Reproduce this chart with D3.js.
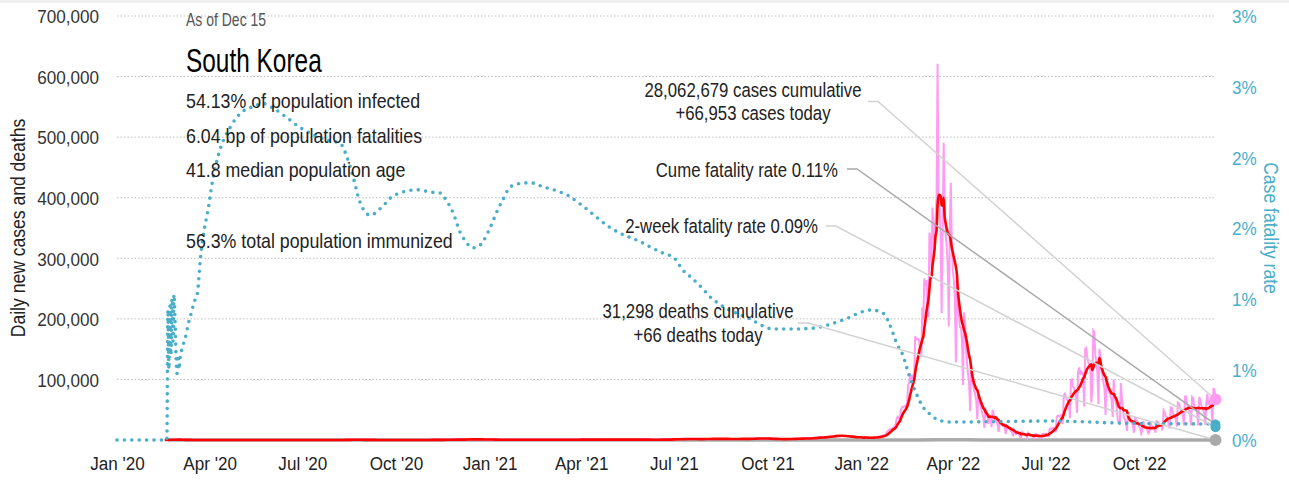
<!DOCTYPE html>
<html>
<head>
<meta charset="utf-8">
<script src="https://cdn.jsdelivr.net/npm/d3@7"></script>
<style>
  html, body { margin: 0; padding: 0; background: #fff; }
  svg { display: block; font-family: "Liberation Sans", Arial, sans-serif; }
</style>
</head>
<body>
<svg id="chart" width="1289" height="480"></svg>
<script>
// ---------------- data ----------------
const leftTicks = [100000, 200000, 300000, 400000, 500000, 600000, 700000];
const rightTicks = [0, 0.005, 0.01, 0.015, 0.02, 0.025, 0.03];
const rightTickLabels = ["0%", "1%", "1%", "2%", "2%", "3%", "3%"];
const xTickDates = ["2020-01-01", "2020-04-01", "2020-07-01", "2020-10-01", "2021-01-01", "2021-04-01",
                    "2021-07-01", "2021-10-01", "2022-01-01", "2022-04-01", "2022-07-01", "2022-10-01"];
const xTickLabels = ["Jan '20", "Apr '20", "Jul '20", "Oct '20", "Jan '21", "Apr '21",
                     "Jul '21", "Oct '21", "Jan '22", "Apr '22", "Jul '22", "Oct '22"];

// Weekly average of new cases per day, weeks starting Monday 2020-02-17 through 2021-12-27
const weeklyStart = "2020-02-17";
const weeklyCases = [
  60, 480, 560, 180, 100, 100, 85, 45, 20, 10, 8, 6, 25, 20, 40, 45, 45, 42, 45, 55,
  45, 40, 45, 30, 35, 90, 250, 330, 230, 150, 120, 90, 70, 70, 80, 80, 110, 120, 150, 250,
  450, 560, 700, 1000, 1050, 950,
  750, 520, 420, 450, 400, 370, 500, 400, 400, 430, 450, 430, 500, 620, 650, 680, 650,
  600, 600, 600, 560, 580, 570, 500, 550, 700, 1200, 1500, 1600, 1500, 1550, 1800, 1850,
  1800, 1700, 1800, 1800, 2200, 2600, 2200, 1800, 1500, 1700, 2100, 2400, 2900, 3900, 4800,
  6200, 7000, 6300, 4800
];

// Daily new cases, 2022-01-01 through 2022-12-15
const dailyStart = "2022-01-01";
const dailyCases = [
  // Jan
  4415, 3833, 3129, 4443, 4126, 4444, 3713, 3511, 3376, 3005, 4388, 4167, 4542, 4423, 4197, 4194,
  3857, 5804, 5805, 6603, 6769, 7009, 7630, 7513, 8571, 13012, 14518, 16096, 17542, 17528, 18341,
  // Feb
  20270, 20908, 22907, 27443, 36362, 38691, 35286, 36719, 49567, 54122, 53926, 54941, 56431, 54619,
  57177, 90443, 93135, 109831, 102211, 104829, 95362, 99573, 171452, 165890, 166209, 166722, 163566, 139626,
  // Mar
  138993, 219241, 198803, 266853, 254327, 264171, 210716, 202721, 342446, 327549, 282987, 383665,
  350190, 309790, 362338, 400741, 621328, 407017, 381454, 334708, 209169, 353980, 490881, 395598,
  339514, 318130, 287536, 187213, 347554, 424641, 320743,
  // Apr
  280273, 264171, 234301, 127892, 266135, 224820, 205333, 186153, 185566, 164481, 90928, 210755,
  195419, 148443, 125846, 107916, 93001, 47743, 118504, 111319, 90867, 81058, 75449, 64725, 34370,
  76787, 68551, 57464, 50568, 43286,
  // May
  37771, 20084, 51131, 49064, 42296, 26714, 40064, 38982, 20601, 49933, 43925, 35906, 32451, 29581,
  25434, 13296, 29579, 29935, 26589, 23956, 25125, 19298, 9975, 23945, 22248, 18816, 17189, 15599,
  13358, 6141, 16584,
  // Jun
  13358, 9888, 12542, 12048, 9832, 5022, 4434, 13358, 12161, 10168, 8438, 7378, 3828, 11441, 9437,
  7995, 7198, 6068, 5022, 3530, 9305, 9591, 7497, 6787, 6228, 3423, 3423, 9595, 10463, 9528,
  // Jul
  10715, 10059, 6253, 6253, 18147, 19371, 18511, 19323, 20410, 20383, 12693, 37360, 40266, 39196,
  38882, 41310, 40342, 26299, 73582, 76402, 71170, 68632, 65433, 65433, 35883, 99327, 100285, 88384,
  85320, 82002, 73589,
  // Aug
  44689, 111789, 119922, 107894, 112901, 110666, 105507, 55292, 149897, 151792, 137241, 128714,
  124592, 119603, 62078, 84128, 180803, 178574, 138812, 128702, 110162, 59046, 150267, 139339,
  113371, 105507, 94586, 85295, 41441, 103961, 95604,
  // Sep
  81573, 77497, 72727, 65433, 37597, 99837, 72847, 62078, 52000, 33000, 29000, 25000, 93981, 71444,
  53993, 36000, 34000, 27000, 15000, 45000, 42000, 32000, 30000, 28000, 21000, 12000, 36000, 34000,
  31000, 28000,
  // Oct
  22000, 19000, 11000, 16000, 31000, 25000, 21000, 20000, 17000, 11000, 13000, 30000, 24000, 22000,
  21000, 18000, 12000, 31000, 30000, 28000, 26000, 25000, 21000, 16000, 49000, 46000, 40000, 37000,
  35000, 25000, 19000,
  // Nov
  54000, 53000, 45000, 41000, 39000, 34000, 22000, 62000, 61000, 54000, 50000, 46000, 40000, 24000,
  72000, 72000, 59000, 55000, 50000, 42000, 24000, 71000, 69000, 57000, 53000, 51000, 44000, 24000,
  71000, 67000,
  // Dec
  57000, 53000, 50000, 43000, 25000, 62000, 76000, 58000, 62000, 57000, 53000, 27000, 86000, 82000, 66953
];

// Average deaths per day, by month
const deathDates = ["2020-02-20", "2020-03-15", "2020-04-15", "2020-05-15", "2020-06-15", "2020-07-15",
  "2020-08-15", "2020-09-15", "2020-10-15", "2020-11-15", "2020-12-15", "2021-01-15", "2021-02-15",
  "2021-03-15", "2021-04-15", "2021-05-15", "2021-06-15", "2021-07-15", "2021-08-15", "2021-09-15",
  "2021-10-15", "2021-11-15", "2021-12-15", "2022-01-15", "2022-02-15", "2022-03-15", "2022-04-15",
  "2022-05-15", "2022-06-15", "2022-07-15", "2022-08-15", "2022-09-15", "2022-10-15", "2022-11-15",
  "2022-12-15"];
const deathsPerDay = [0.5, 5, 3, 0.5, 0.3, 0.5, 0.5, 3, 2, 1.5, 12, 16, 5, 3, 3, 4, 2, 2, 8, 7,
  11, 40, 65, 32, 40, 285, 210, 40, 12, 15, 60, 50, 22, 40, 66];

// Cumulative case fatality rate, percent
const cfrDates = ["2020-01-01", "2020-02-19", "2020-02-20", "2020-02-21", "2020-02-22", "2020-02-23",
  "2020-02-24", "2020-02-25", "2020-02-26", "2020-02-27", "2020-02-28", "2020-02-29", "2020-03-01",
  "2020-03-02", "2020-03-03", "2020-03-05", "2020-03-08", "2020-03-11", "2020-03-14", "2020-03-17",
  "2020-03-20", "2020-03-23", "2020-03-27", "2020-03-30", "2020-04-04", "2020-04-11", "2020-04-21",
  "2020-05-01", "2020-05-14", "2020-05-24", "2020-06-02", "2020-06-16", "2020-06-29", "2020-07-12",
  "2020-07-26", "2020-08-07", "2020-08-14", "2020-08-20", "2020-08-25", "2020-09-01", "2020-09-06",
  "2020-09-16", "2020-09-29", "2020-10-22", "2020-11-04", "2020-11-14", "2020-11-19", "2020-11-26",
  "2020-12-03", "2020-12-08", "2020-12-15", "2020-12-20", "2020-12-26", "2021-01-02", "2021-01-09",
  "2021-01-14", "2021-01-19", "2021-01-27", "2021-02-10", "2021-02-23", "2021-03-09", "2021-03-19",
  "2021-03-29", "2021-04-07", "2021-04-17", "2021-04-30", "2021-05-13", "2021-05-27", "2021-06-08",
  "2021-06-21", "2021-07-01", "2021-07-10", "2021-07-18", "2021-07-28", "2021-08-06", "2021-08-16",
  "2021-09-12", "2021-10-07", "2021-10-24", "2021-11-16", "2021-12-02", "2021-12-19", "2022-01-03",
  "2022-01-11", "2022-01-24", "2022-01-27", "2022-01-31", "2022-02-04", "2022-02-08", "2022-02-11",
  "2022-02-14", "2022-02-17", "2022-02-20", "2022-02-24", "2022-03-03", "2022-03-11", "2022-03-18",
  "2022-03-31", "2022-07-07", "2022-09-11", "2022-12-15"];
const cfrPct = [0, 0, 0.92, 0.50, 0.95, 0.60, 1.00, 0.70, 1.03, 0.85, 0.60, 0.47, 0.60,
  0.50, 0.58, 0.65, 0.72, 0.82, 0.90, 0.98, 1.04, 1.29, 1.50, 1.61, 1.84, 2.05, 2.21,
  2.31, 2.36, 2.38, 2.35, 2.28, 2.21, 2.16, 2.12, 2.10, 2.00, 1.86, 1.72, 1.61, 1.59,
  1.64, 1.73, 1.77, 1.754, 1.747, 1.70, 1.61, 1.47, 1.41, 1.36, 1.365, 1.41, 1.51, 1.63,
  1.70, 1.77, 1.81, 1.82, 1.79, 1.76, 1.73, 1.68, 1.63, 1.57, 1.50, 1.45, 1.41, 1.365,
  1.32, 1.29, 1.20, 1.15, 1.08, 1.01, 0.955, 0.863, 0.785, 0.785, 0.792, 0.82, 0.863, 0.91,
  0.92, 0.89, 0.85, 0.78, 0.70, 0.64, 0.60, 0.53, 0.46, 0.40, 0.33, 0.23, 0.175, 0.14,
  0.127, 0.134, 0.12, 0.113];

const latestCases = 66953;
const latestDeaths = 66;
const cumulativeCases = 28062679;
const cumulativeDeaths = 31298;
const cumeFatalityRate = 0.0011;
const twoWeekFatalityRate = 0.0009;

const infoLines = [
  "54.13% of population infected",
  "6.04 bp of population fatalities",
  "41.8 median population age"
];
const immunizedLine = "56.3% total population immunized";

// ---------------- build series ----------------
const parse = d3.utcParse("%Y-%m-%d");
const wk0 = parse(weeklyStart);
const day0 = parse(dailyStart);

const weeklySeries = weeklyCases.map((v, i) => ({ date: d3.utcDay.offset(wk0, i * 7), value: v }));
const dailySeries = dailyCases.map((v, i) => ({ date: d3.utcDay.offset(day0, i), value: v }));
// trailing 7-day average of the daily counts
const avgSeries = dailySeries.map((d, i) => ({
  date: d.date,
  value: d3.mean(dailyCases.slice(Math.max(0, i - 6), i + 1))
}));
const pinkSeries = weeklySeries.concat(dailySeries);
const redSeries = weeklySeries.concat(avgSeries);
const deathSeries = deathDates.map((d, i) => ({ date: parse(d), value: deathsPerDay[i] }));
const cfrSeries = cfrDates.map((d, i) => ({ date: parse(d), value: cfrPct[i] / 100 }));
const lastDate = dailySeries[dailySeries.length - 1].date;

// ---------------- scales ----------------
const svg = d3.select("#chart");
const x = d3.scaleUtc().domain([parse("2020-01-01"), lastDate]).range([117, 1215.5]);
const y = d3.scaleLinear().domain([0, 700000]).range([440, 16]);
const yR = d3.scaleLinear().domain([0, 0.03]).range([440, 16]);

const TEAL = "#4aaec9";
const PINK = "#ff9cf2";
const TXT = "#222";

// narrow lettering: horizontally compressed glyphs anchored at (x, y)
function label(parent, x0, y0, sx, size, str, anchor = "start", rot = 0) {
  return parent.append("text")
    .attr("transform", `translate(${x0},${y0})${rot ? ` rotate(${rot})` : ""} scale(${sx},1)`)
    .attr("font-size", size).attr("text-anchor", anchor).text(str);
}

// thin band along the top edge
svg.append("rect").attr("x", 0).attr("y", 0).attr("width", 1289).attr("height", 3).attr("fill", "#efefef");

// ---------------- grid ----------------
svg.append("g").selectAll("line").data(leftTicks).join("line")
  .attr("x1", 117).attr("x2", 1216)
  .attr("y1", d => y(d)).attr("y2", d => y(d))
  .attr("stroke", "#bdbdbd").attr("stroke-width", 1).attr("stroke-dasharray", "1.5,2");

// ---------------- axes ----------------
const TICK_SIZE = 19, TICK_SX = 0.9;
const axisFont = g => g.attr("font-family", null).attr("font-size", TICK_SIZE);

const gLeft = svg.append("g").attr("transform", "translate(99,0)")
  .call(d3.axisLeft(y).tickValues(leftTicks).tickFormat(d3.format(",")).tickSize(0).tickPadding(0))
  .call(axisFont);
gLeft.select(".domain").remove();
gLeft.selectAll("text").attr("fill", "#333").attr("dy", "0.36em").attr("transform", `scale(${TICK_SX},1)`);

const gRight = svg.append("g").attr("transform", "translate(1232,0)")
  .call(d3.axisRight(yR).tickValues(rightTicks).tickFormat((d, i) => rightTickLabels[i]).tickSize(0).tickPadding(0))
  .call(axisFont);
gRight.select(".domain").remove();
gRight.selectAll("text").attr("fill", TEAL).attr("dy", "0.36em").attr("transform", `scale(${TICK_SX},1)`);

const gBottom = svg.append("g").attr("transform", "translate(0,440)")
  .call(d3.axisBottom(x).tickValues(xTickDates.map(parse)).tickFormat((d, i) => xTickLabels[i]).tickSize(0))
  .call(axisFont);
gBottom.select(".domain").remove();
gBottom.selectAll("text").attr("fill", "#222").attr("y", 17).attr("transform", `scale(${TICK_SX},1)`);

label(svg, 25, 228, 0.9, 19.5, "Daily new cases and deaths", "middle", -90).attr("fill", TXT);
label(svg, 1264, 228, 0.9, 19.5, "Case fatality rate", "middle", 90).attr("fill", TEAL);

// ---------------- series ----------------
svg.append("path")
  .attr("d", d3.line().x(d => x(d.date)).y(d => y(d.value)).curve(d3.curveMonotoneX)(deathSeries))
  .attr("fill", "none").attr("stroke", "#aaaaaa").attr("stroke-width", 3.5);

svg.append("path")
  .attr("d", d3.line().x(d => x(d.date)).y(d => y(d.value))(pinkSeries))
  .attr("fill", "none").attr("stroke", PINK).attr("stroke-width", 2);

svg.append("path")
  .attr("d", d3.line().x(d => x(d.date)).y(d => y(d.value)).curve(d3.curveMonotoneX)(redSeries))
  .attr("fill", "none").attr("stroke", "#ff0000").attr("stroke-width", 2.6)
  .attr("stroke-linejoin", "round");

svg.append("path")
  .attr("d", d3.line().x(d => x(d.date)).y(d => yR(d.value)).curve(d3.curveMonotoneX)(cfrSeries))
  .attr("fill", "none").attr("stroke", TEAL).attr("stroke-width", 3.6)
  .attr("stroke-linecap", "round").attr("stroke-dasharray", "0,7.4");

// ---------------- annotations ----------------
const xEnd = x(lastDate);
const leaders = [
  { x0: 868, y0: 101.5, ty: y(latestCases), color: "#d2d2d2" },
  { x0: 847, y0: 169, ty: yR(cumeFatalityRate), color: "#a9a9a9" },
  { x0: 826, y0: 226, ty: yR(twoWeekFatalityRate), color: "#d2d2d2" },
  { x0: 798, y0: 323, ty: y(latestDeaths), color: "#d2d2d2" }
];
svg.append("g").selectAll("path").data(leaders).join("path")
  .attr("d", d => `M${d.x0},${d.y0}H${d.x0 + 10}L${xEnd},${d.ty}`)
  .attr("fill", "none").attr("stroke", d => d.color).attr("stroke-width", 1.5);

const fmt = d3.format(",");
const annot = svg.append("g").attr("fill", TXT);
const A_SIZE = 19.5, A_SX = 0.86;
label(annot, 753, 97, A_SX, A_SIZE, `${fmt(cumulativeCases)} cases cumulative`, "middle");
label(annot, 753, 120, A_SX, A_SIZE, `+${fmt(latestCases)} cases today`, "middle");
label(annot, 838, 177, A_SX, A_SIZE, `Cume fatality rate ${(cumeFatalityRate * 100).toFixed(2)}%`, "end");
label(annot, 818, 233, A_SX, A_SIZE, `2-week fatality rate ${(twoWeekFatalityRate * 100).toFixed(2)}%`, "end");
label(annot, 698, 318, A_SX, A_SIZE, `${fmt(cumulativeDeaths)} deaths cumulative`, "middle");
label(annot, 698, 342, A_SX, A_SIZE, `+${latestDeaths} deaths today`, "middle");

// end-of-series markers
svg.append("circle").attr("cx", xEnd).attr("cy", y(latestDeaths)).attr("r", 6).attr("fill", "#aaaaaa");
svg.append("circle").attr("cx", xEnd).attr("cy", yR(twoWeekFatalityRate)).attr("r", 5).attr("fill", TEAL);
svg.append("circle").attr("cx", xEnd).attr("cy", yR(cumeFatalityRate)).attr("r", 5).attr("fill", TEAL);
svg.append("circle").attr("cx", xEnd).attr("cy", y(latestCases)).attr("r", 6).attr("fill", PINK);

// ---------------- title block ----------------
const info = svg.append("g").attr("fill", TXT);
label(info, 186, 26, 0.8, 17.5, "As of Dec 15").attr("fill", "#555");
label(info, 186, 72, 0.74, 33, "South Korea").attr("fill", "#000");
infoLines.forEach((t, i) => label(info, 186, 108 + i * 34.5, 0.88, 20.2, t));
label(info, 186, 248, 0.88, 20.2, immunizedLine);
</script>
</body>
</html>
